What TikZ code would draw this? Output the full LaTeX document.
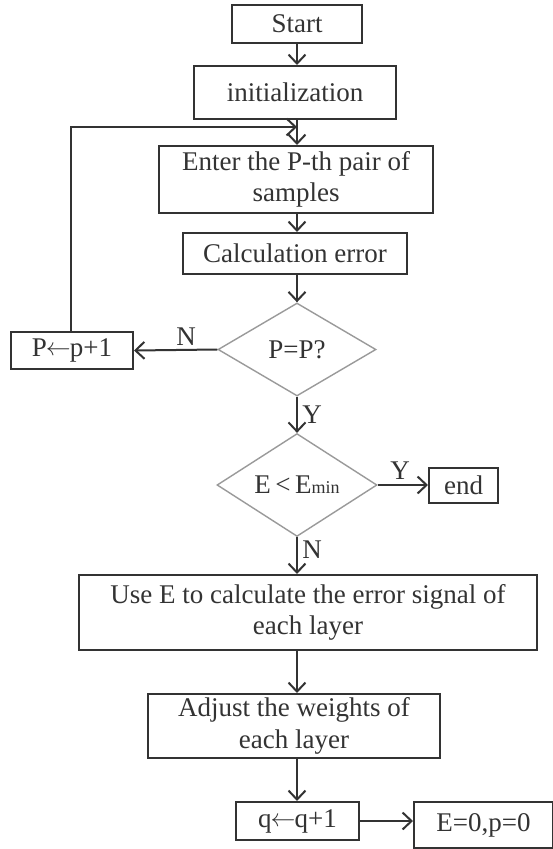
\documentclass[tikz,border=0pt]{standalone}
\usepackage{fontspec}
\setmainfont{Liberation Serif}
\usetikzlibrary{shapes.geometric,arrows.meta}
\definecolor{ink}{HTML}{333333}
\definecolor{dia}{HTML}{9A9A9A}
\newcommand{\larr}{\kern-1pt\raisebox{1pt}{$\leftarrow$}\kern-1pt}
\tikzset{
  box/.style={draw=ink, line width=2pt, text=ink, inner sep=0pt, align=center,
    font=\fontsize{27}{31.5}\selectfont},
  dec/.style={draw=dia, line width=1.4pt, diamond, inner sep=0pt, text=ink,
    font=\fontsize{27}{31.5}\selectfont},
  lab/.style={text=ink, inner sep=0pt, font=\fontsize{27}{31.5}\selectfont},
  arr/.style={draw=ink, line width=2pt,
    -{Straight Barb[length=9pt,width=17pt,line width=2pt]}},
}
\begin{document}
\begin{tikzpicture}[x=1pt,y=-1pt]
\useasboundingbox (0,0) rectangle (553,849);
\fill[white] (0,0) rectangle (553,849);
\node[box, minimum width=130pt, minimum height=38pt] (start) at (297,24) {Start};
\node[box, minimum width=202pt, minimum height=53pt] (init) at (295,92.5) {initialization};
\node[box, minimum width=274pt, minimum height=67pt] (enter) at (296,179.5) {Enter the P-th pair of\\samples};
\node[box, minimum width=224pt, minimum height=41pt] (calc) at (295,253.5) {Calculation error};
\node[dec, minimum width=158pt, minimum height=93pt] (d1) at (297,349.5) {P=P?};
\node[box, minimum width=122pt, minimum height=37pt] (pinc) at (72,350.5) {P\larr p+1};
\node[dec, minimum width=160pt, minimum height=96pt] (d2) at (297,485) {E\,<\,E{\fontsize{18}{18}\selectfont min}};
\node[box, minimum width=69pt, minimum height=35pt] (end) at (463.5,485.5) {end};
\node[box, minimum width=458pt, minimum height=75pt] (usee) at (308,612.5) {Use E to calculate the error signal of\\each layer};
\node[box, minimum width=292pt, minimum height=64pt] (adj) at (294,726) {Adjust the weights of\\each layer};
\node[box, minimum width=123pt, minimum height=38pt] (qinc) at (297.5,821) {q\larr q+1};
\node[box, minimum width=139pt, minimum height=46pt] (reset) at (483.5,825) {E=0,p=0};
\coordinate (col) at (297,0);
\coordinate (loop) at (297,127);
\coordinate (lx) at (71,0);
\node[lab] (n1) at (186,337) {N};
\node[lab] (y1) at (312,415) {Y};
\node[lab] (y2) at (400,471) {Y};
\node[lab] (n2) at (312,550) {N};
% connectors
\draw[arr] (col |- start.south) -- (col |- init.north);
\draw[arr] (col |- init.south) -- (col |- enter.north);
\draw[arr] (lx |- pinc.north) |- (loop);
\draw[arr] (col |- enter.south) -- (col |- calc.north);
\draw[arr] (col |- calc.south) -- (d1.north);
\draw[arr] (d1.west) -- (pinc.east);
\draw[arr] (d1.south) -- (d2.north);
\draw[arr] (d2.east) -- (d2.east -| end.west);
\draw[arr] (d2.south) -- (d2.south |- usee.north);
\draw[arr] (col |- usee.south) -- (col |- adj.north);
\draw[arr] (col |- adj.south) -- (col |- qinc.north);
\draw[arr] (qinc.east) -- (qinc.east -| reset.west);
\end{tikzpicture}
\end{document}
